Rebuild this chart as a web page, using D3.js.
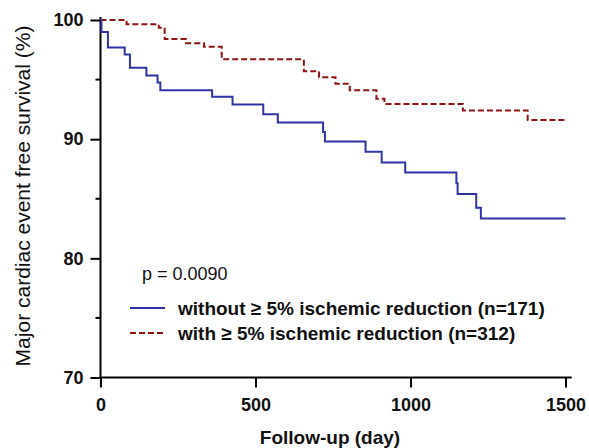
<!DOCTYPE html>
<html>
<head>
<meta charset="utf-8">
<script src="https://cdn.jsdelivr.net/npm/d3@7"></script>
<style>
  body { margin: 0; background: #fff; }
  svg { font-family: "Liberation Sans", Arial, sans-serif; }
</style>
</head>
<body>
<svg id="km" width="589" height="448"></svg>
<script>
// Kaplan-Meier steps: day at which the curve drops, survival (%) after the drop
const withoutDays = [0, 3, 24, 78, 95, 148, 184, 193, 360, 426, 525, 572, 718, 724, 855, 907, 983, 1148, 1152, 1212, 1227, 1500];
const withoutSurv = [100, 99.0, 97.7, 97.1, 96.0, 95.35, 94.75, 94.1, 93.55, 92.9, 92.1, 91.4, 90.6, 89.8, 88.95, 88.05, 87.2, 86.3, 85.4, 84.25, 83.35, 83.35];

const withDays = [0, 84, 188, 207, 276, 334, 391, 656, 705, 758, 804, 890, 916, 1169, 1378, 1500];
const withSurv = [100, 99.65, 99.35, 98.4, 98.05, 97.75, 96.7, 95.7, 95.2, 94.65, 94.1, 93.4, 92.95, 92.4, 91.6, 91.6];

const xTicks = [0, 500, 1000, 1500];
const yTicks = [70, 80, 90, 100];
const yMinor = [75, 85, 95];

const seriesNames = ["without \u2265 5% ischemic reduction (n=171)", "with \u2265 5% ischemic reduction (n=312)"];
const pText = "p = 0.0090";

const svg = d3.select("#km");

const x = d3.scaleLinear().domain([0, 1500]).range([100.5, 565.5]);
const y = d3.scaleLinear().domain([70, 100]).range([377.5, 20]);

function steps(days, surv) {
  return days.map((d, i) => [d, surv[i]]);
}

const line = d3.line()
  .x(d => x(d[0]))
  .y(d => y(d[1]))
  .curve(d3.curveStepAfter);

// axes
const xAxis = svg.append("g")
  .attr("transform", `translate(0,${y(70)})`)
  .call(d3.axisBottom(x).tickValues(xTicks).tickFormat(d3.format("d"))
    .tickSize(10).tickPadding(11).tickSizeOuter(0));
xAxis.select(".domain").remove();
xAxis.selectAll("line").attr("stroke", "#000").attr("stroke-width", 2);
xAxis.selectAll("text")
  .attr("font-size", 18).attr("font-weight", "bold").attr("fill", "#111")
  .attr("font-family", "Liberation Sans, Arial, sans-serif");

const yAxis = svg.append("g")
  .attr("transform", `translate(${x(0)},0)`)
  .call(d3.axisLeft(y).tickValues(yTicks).tickFormat(d3.format("d"))
    .tickSize(10).tickPadding(7).tickSizeOuter(0));
yAxis.select(".domain").remove();
yAxis.selectAll("line").attr("stroke", "#000").attr("stroke-width", 2);
yAxis.selectAll("text")
  .attr("font-size", 18).attr("font-weight", "bold").attr("fill", "#111")
  .attr("font-family", "Liberation Sans, Arial, sans-serif");

svg.append("g")
  .selectAll("line")
  .data(yMinor)
  .join("line")
  .attr("x1", x(0) - 5).attr("x2", x(0))
  .attr("y1", d => y(d)).attr("y2", d => y(d))
  .attr("stroke", "#000").attr("stroke-width", 2);

// axis lines
svg.append("line")
  .attr("x1", x(0)).attr("x2", x(0))
  .attr("y1", y(100) - 3).attr("y2", y(70))
  .attr("stroke", "#000").attr("stroke-width", 2);
svg.append("line")
  .attr("x1", x(0)).attr("x2", x(1520))
  .attr("y1", y(70)).attr("y2", y(70))
  .attr("stroke", "#000").attr("stroke-width", 2);

// curves
svg.append("path")
  .datum(steps(withDays, withSurv))
  .attr("d", line)
  .attr("fill", "none")
  .attr("stroke", "#8f1414")
  .attr("stroke-width", 2)
  .attr("stroke-dasharray", "6,3");

svg.append("path")
  .datum(steps(withoutDays, withoutSurv))
  .attr("d", line)
  .attr("fill", "none")
  .attr("stroke", "#2e34a6")
  .attr("stroke-width", 2);

// axis titles
svg.append("text")
  .attr("x", 330).attr("y", 444)
  .attr("text-anchor", "middle")
  .attr("font-size", 19)
  .attr("font-weight", "bold")
  .attr("fill", "#111")
  .text("Follow-up (day)");

svg.append("text")
  .attr("transform", `translate(30,${(22 + 370) / 2}) rotate(-90)`)
  .attr("text-anchor", "middle")
  .attr("font-size", 21)
  .attr("fill", "#111")
  .text("Major cardiac event free survival (%)");

// p-value and legend
svg.append("text")
  .attr("x", 142).attr("y", 280)
  .attr("font-size", 18)
  .attr("fill", "#111")
  .text(pText);

const legendColors = ["#2e34a6", "#8f1414"];
const legendDash = [null, "6,3"];
const rows = svg.append("g")
  .selectAll("g")
  .data(seriesNames)
  .join("g")
  .attr("transform", (d, i) => `translate(0,${308 + i * 25})`);
rows.append("line")
  .attr("x1", 130).attr("x2", 165)
  .attr("stroke", (d, i) => legendColors[i])
  .attr("stroke-width", 2)
  .attr("stroke-dasharray", (d, i) => legendDash[i]);
rows.append("text")
  .attr("x", 178).attr("y", 7)
  .attr("font-size", 19)
  .attr("font-weight", "bold")
  .attr("fill", "#111")
  .text(d => d);
</script>
</body>
</html>
